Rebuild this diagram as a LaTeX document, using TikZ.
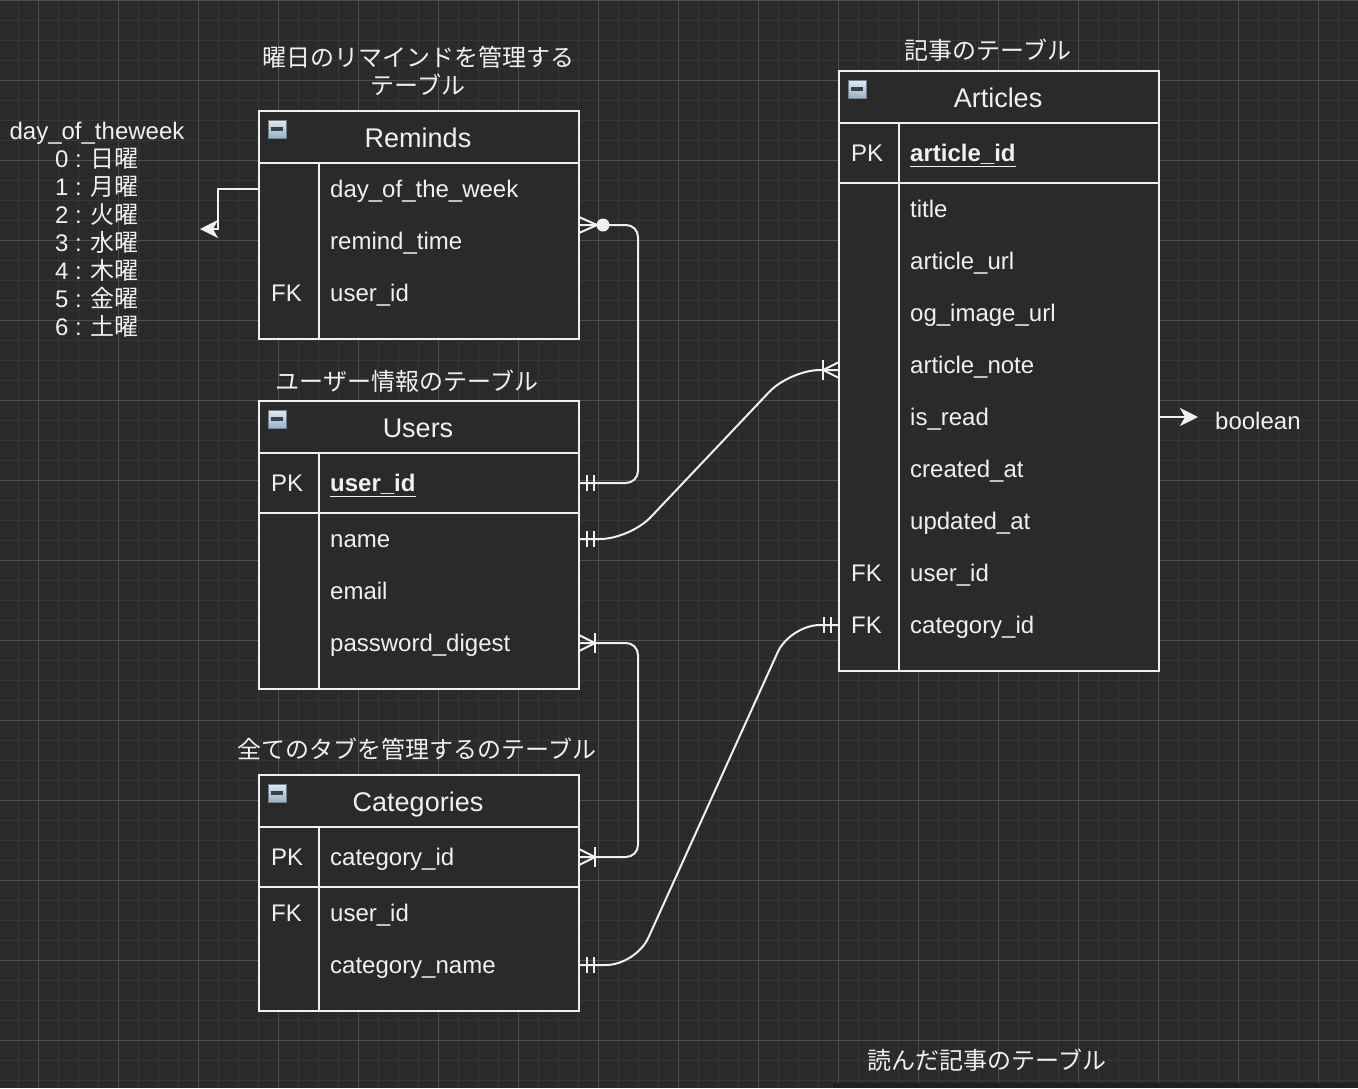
\documentclass[tikz,border=0pt]{standalone}
\usepackage{fontspec}
\setmainfont{Liberation Sans}
\newfontfamily\jp{Noto Sans CJK JP}
\usetikzlibrary{arrows.meta,calc}
\definecolor{bg}{HTML}{2A2A2A}
\definecolor{gmin}{HTML}{363636}
\definecolor{gmaj}{HTML}{4E4E4E}
\definecolor{fg}{HTML}{F0F0F0}
\definecolor{iconA}{HTML}{E2E9F0}
\definecolor{iconB}{HTML}{9DB0C3}
\definecolor{iconC}{HTML}{6F8295}
\definecolor{iconD}{HTML}{33414F}
\definecolor{shadowc}{HTML}{202020}
\newcommand\erMandOne[2]{%
  \draw[conn] ($(#1)+(#2*8,-8)$) -- ($(#1)+(#2*8,8)$);
  \draw[conn] ($(#1)+(#2*15,-8)$) -- ($(#1)+(#2*15,8)$);}
\newcommand\erOneMany[2]{%
  \draw[conn] ($(#1)+(0,-8)$) -- ($(#1)+(#2*16,0)$) -- ($(#1)+(0,8)$);
  \draw[conn] ($(#1)+(#2*16,-10)$) -- ($(#1)+(#2*16,10)$);}
\begin{document}
\begin{tikzpicture}[x=1pt,y=-1pt,
  tbl/.style={draw=fg, line width=1.6pt, fill=bg, anchor=north west, inner sep=0pt, outer sep=0pt, minimum width=320pt},
  fld/.style={anchor=west, inner sep=0pt, text=fg, font=\fontsize{24}{28}\selectfont, text height=19pt, text depth=2pt},
  hdr/.style={inner sep=0pt, text=fg, font=\fontsize{27}{32}\selectfont, text height=20pt, text depth=2pt},
  ttl/.style={inner sep=0pt, text=fg, font=\fontsize{24}{28}\selectfont\jp, text height=21pt, text depth=3pt},
  ln/.style={draw=fg, line width=1.6pt},
  conn/.style={draw=fg, line width=2pt},
  tip/.style={-{Stealth[length=18pt,width=18pt,inset=5pt]}},
  minusicon/.pic={
    \shade[top color=iconA, bottom color=iconB, draw=iconC, line width=0.8pt] (0,0) rectangle (18,18);
    \fill[iconD] (3,7) rectangle (15,11);
  }
]
\fill[bg] (0,0) rectangle (1358,1088);
\useasboundingbox (0,0) rectangle (1358,1088);
% grid
\foreach \x in {18,38,...,1358} \draw[gmin, line width=1pt] (\x,0) -- (\x,1088);
\foreach \y in {0,20,...,1088} \draw[gmin, line width=1pt] (0,\y) -- (1358,\y);
\foreach \x in {38,118,...,1358} \draw[gmaj, line width=1pt] (\x,0) -- (\x,1088);
\foreach \y in {0,80,...,1088} \draw[gmaj, line width=1pt] (0,\y) -- (1358,\y);
\fill[shadowc] (833,1083) rectangle (1358,1088);

% ---------- Reminds ----------
\node[tbl, minimum height=228pt] (rem) at (259,111) {};
\draw[ln] (259,163) -- (579,163);
\draw[ln] (319,163) -- (319,339);
\pic at (268,120) {minusicon};
\node[hdr] (remh) at (418,138) {Reminds};
\node[fld] (r1) at (330,189) {day\_of\_the\_week};
\node[fld] (r2) at (330,241) {remind\_time};
\node[fld] (r3) at (330,293) {user\_id};
\node[fld] (r3k) at (271,293) {FK};

% ---------- Users ----------
\node[tbl, minimum height=288pt] (usr) at (259,401) {};
\draw[ln] (259,453) -- (579,453);
\draw[ln] (259,513) -- (579,513);
\draw[ln] (319,453) -- (319,689);
\pic at (268,410) {minusicon};
\node[hdr] (usrh) at (418,428) {Users};
\node[fld] (u1k) at (271,483) {PK};
\node[fld] (u1) at (330,483) {\underline{\textbf{user\_id}}};
\node[fld] (u2) at (330,539) {name};
\node[fld] (u3) at (330,591) {email};
\node[fld] (u4) at (330,643) {password\_digest};

% ---------- Categories ----------
\node[tbl, minimum height=236pt] (cat) at (259,775) {};
\draw[ln] (259,827) -- (579,827);
\draw[ln] (259,887) -- (579,887);
\draw[ln] (319,827) -- (319,1011);
\pic at (268,784) {minusicon};
\node[hdr] (cath) at (418,802) {Categories};
\node[fld] (c1k) at (271,857) {PK};
\node[fld] (c1) at (330,857) {category\_id};
\node[fld] (c2k) at (271,913) {FK};
\node[fld] (c2) at (330,913) {user\_id};
\node[fld] (c3) at (330,965) {category\_name};

% ---------- Articles ----------
\node[tbl, minimum height=600pt] (art) at (839,71) {};
\draw[ln] (839,123) -- (1159,123);
\draw[ln] (839,183) -- (1159,183);
\draw[ln] (899,123) -- (899,671);
\pic at (848,80) {minusicon};
\node[hdr] (arth) at (998,98) {Articles};
\node[fld] (a0k) at (851,153) {PK};
\node[fld] (a0) at (910,153) {\underline{\textbf{article\_id}}};
\node[fld] (a1) at (910,209) {title};
\node[fld] (a2) at (910,261) {article\_url};
\node[fld] (a3) at (910,313) {og\_image\_url};
\node[fld] (a4) at (910,365) {article\_note};
\node[fld] (a5) at (910,417) {is\_read};
\node[fld] (a6) at (910,469) {created\_at};
\node[fld] (a7) at (910,521) {updated\_at};
\node[fld] (a8k) at (851,573) {FK};
\node[fld] (a8) at (910,573) {user\_id};
\node[fld] (a9k) at (851,625) {FK};
\node[fld] (a9) at (910,625) {category\_id};

% ---------- titles ----------
\node[ttl] (t1a) at (418,57) {曜日のリマインドを管理する};
\node[ttl] (t1b) at (418,85) {テーブル};
\node[ttl] (t2) at (407,381) {ユーザー情報のテーブル};
\node[ttl] (t3) at (417,749) {全てのタブを管理するのテーブル};
\node[ttl] (t4) at (988,50) {記事のテーブル};
\node[ttl] (t5) at (987,1060) {読んだ記事のテーブル};

% ---------- side labels ----------
\node[inner sep=0pt, text=fg, align=center, font=\fontsize{24}{28}\selectfont] (dow) at (97,230)
  {day\_of\_theweek\\0 : {\jp 日曜}\\1 : {\jp 月曜}\\2 : {\jp 火曜}\\3 : {\jp 水曜}\\4 : {\jp 木曜}\\5 : {\jp 金曜}\\6 : {\jp 土曜}};
\node[fld] (bool) at (1215,421) {boolean};

% ---------- connectors ----------
\coordinate (remC) at ($(rem.north east)+(0,114)$);
\coordinate (uidR) at (usr.east |- u1);
\coordinate (nameR) at (usr.east |- u2);
\coordinate (pwR) at (usr.east |- u4);
\coordinate (cidR) at (cat.east |- c1);
\coordinate (cnR) at (cat.east |- c3);
\coordinate (artN) at ($(art.north west)+(0,299)$);
\coordinate (artC) at (art.west |- a9);
\coordinate (r1L) at (rem.west |- r1);
\coordinate (dowE) at (200,229);
\coordinate (isrR) at (art.east |- a5);
\coordinate (boolE) at (1198,417);

% Reminds -- Users
\draw[conn, rounded corners=12pt] (remC) -| ($(uidR)+(59,0)$) -- (uidR);
\draw[conn] ($(remC)+(0,-8)$) -- ($(remC)+(18,0)$) -- ($(remC)+(0,8)$);
\fill[fg] ($(remC)+(24,0)$) circle (6.5pt);
\erMandOne{uidR}{1}

% Users -- Articles
\draw[conn, rounded corners=30pt] (nameR) -- ($(nameR)+(51,0)$) -- ($(artN)+(-49,0)$) -- (artN);
\erMandOne{nameR}{1}
\erOneMany{artN}{-1}

% Users -- Categories
\draw[conn, rounded corners=12pt] (pwR) -| ($(cidR)+(59,0)$) -- (cidR);
\erOneMany{pwR}{1}
\erOneMany{cidR}{1}

% Categories -- Articles
\draw[conn, rounded corners=30pt] (cnR) -- ($(cnR)+(57,0)$) -- ($(artC)+(-49,0)$) -- (artC);
\erMandOne{cnR}{1}
\erMandOne{artC}{-1}

% arrows
\draw[conn, tip] (r1L) -- ++(-41,0) |- (dowE);
\draw[conn, tip] (isrR) -- (boolE);
\end{tikzpicture}
\end{document}
